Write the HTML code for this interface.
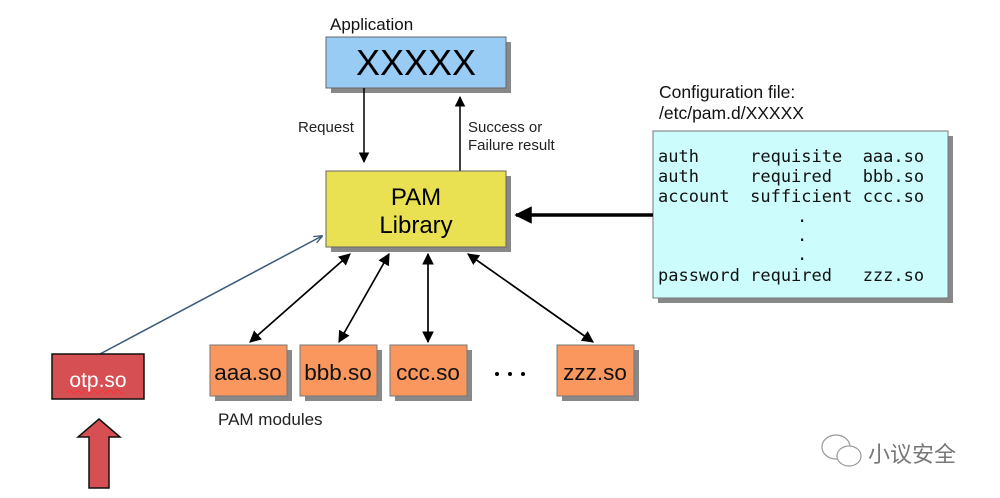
<!DOCTYPE html>
<html><head><meta charset="utf-8"><style>
html,body{margin:0;padding:0;background:#fff;width:1000px;height:498px;overflow:hidden}
svg text{font-family:"Liberation Sans","Noto Sans CJK SC",sans-serif}
.mono{font-family:"DejaVu Sans Mono","Liberation Mono",monospace}
</style></head><body>
<svg width="1000" height="498" viewBox="0 0 1000 498" xmlns="http://www.w3.org/2000/svg">
<defs>
<marker id="a" viewBox="0 0 10 10" refX="9" refY="5" markerWidth="7" markerHeight="7" orient="auto-start-reverse"><path d="M0,0 L10,5 L0,10 z" fill="#000"/></marker>
<marker id="b" viewBox="0 0 10 10" refX="9" refY="5" markerWidth="5" markerHeight="5" orient="auto"><path d="M0,0 L10,5 L0,10 z" fill="#000"/></marker>
<marker id="c" viewBox="0 0 10 10" refX="9" refY="5" markerWidth="6" markerHeight="6" orient="auto"><path d="M0,1 L10,5 L0,9" fill="none" stroke="#3a5a7a" stroke-width="1.5"/></marker>
</defs>
<text x="330" y="30" font-size="17" fill="#111">Application</text>
<rect x="331" y="42" width="180" height="51" fill="#888"/>
<rect x="326" y="37" width="180" height="51" fill="#99ccf5" stroke="#666" stroke-width="1"/>
<text x="416" y="75" font-size="36" text-anchor="middle" fill="#000">XXXXX</text>
<line x1="364" y1="88" x2="364" y2="162" stroke="#000" stroke-width="1.5" marker-end="url(#a)"/>
<text x="298" y="132" font-size="15" fill="#222">Request</text>
<line x1="460" y1="171" x2="460" y2="97" stroke="#000" stroke-width="1.5" marker-end="url(#a)"/>
<text x="468" y="132" font-size="15" fill="#222">Success or</text>
<text x="468" y="150" font-size="15" fill="#222">Failure result</text>
<rect x="331" y="176" width="180" height="76" fill="#888"/>
<rect x="326" y="171" width="180" height="76" fill="#e9e152" stroke="#666" stroke-width="1"/>
<text x="416" y="205" font-size="24" text-anchor="middle" fill="#000">PAM</text>
<text x="416" y="233" font-size="24" text-anchor="middle" fill="#000">Library</text>
<text x="659" y="98" font-size="17.5" fill="#111">Configuration file:</text>
<text x="659" y="119" font-size="17.5" fill="#111">/etc/pam.d/XXXXX</text>
<rect x="658" y="136" width="295" height="167" fill="#888"/>
<rect x="653" y="131" width="295" height="167" fill="#ccfcfc" stroke="#777" stroke-width="1"/>
<g font-size="17" fill="#111">
<text x="658" y="162" class="mono" xml:space="preserve">auth     requisite  aaa.so</text>
<text x="658" y="182" class="mono" xml:space="preserve">auth     required   bbb.so</text>
<text x="658" y="202" class="mono" xml:space="preserve">account  sufficient ccc.so</text>
<text x="797" y="222" class="mono">.</text>
<text x="797" y="241" class="mono">.</text>
<text x="797" y="260" class="mono">.</text>
<text x="658" y="281" class="mono" xml:space="preserve">password required   zzz.so</text>
</g>
<line x1="653" y1="215" x2="516" y2="215" stroke="#000" stroke-width="3.5" marker-end="url(#b)"/>
<g stroke="#000" stroke-width="1.7">
<line x1="250" y1="342" x2="350" y2="254" marker-start="url(#a)" marker-end="url(#a)"/>
<line x1="339" y1="342" x2="389" y2="254" marker-start="url(#a)" marker-end="url(#a)"/>
<line x1="428" y1="342" x2="428" y2="254" marker-start="url(#a)" marker-end="url(#a)"/>
<line x1="593" y1="342" x2="468" y2="254" marker-start="url(#a)" marker-end="url(#a)"/>
</g>
<g font-size="22.5" text-anchor="middle" fill="#111">
<rect x="215" y="350" width="77" height="51" fill="#888"/><rect x="210" y="345" width="77" height="51" fill="#f9975f" stroke="#777"/><text x="248" y="380">aaa.so</text>
<rect x="305" y="350" width="77" height="51" fill="#888"/><rect x="300" y="345" width="77" height="51" fill="#f9975f" stroke="#777"/><text x="338" y="380">bbb.so</text>
<rect x="395" y="350" width="77" height="51" fill="#888"/><rect x="390" y="345" width="77" height="51" fill="#f9975f" stroke="#777"/><text x="428" y="380">ccc.so</text>
<rect x="562" y="350" width="77" height="51" fill="#888"/><rect x="557" y="345" width="77" height="51" fill="#f9975f" stroke="#777"/><text x="595" y="380">zzz.so</text>
</g>
<circle cx="497" cy="374" r="2" fill="#000"/><circle cx="510" cy="374" r="2" fill="#000"/><circle cx="523" cy="374" r="2" fill="#000"/>
<text x="218" y="425" font-size="17" fill="#222">PAM modules</text>
<line x1="100" y1="354" x2="322" y2="236" stroke="#3a5a7a" stroke-width="1.5" marker-end="url(#c)"/>
<rect x="52" y="354" width="92" height="45" fill="#d54f53" stroke="#111" stroke-width="1.5"/>
<text x="98" y="387" font-size="21" text-anchor="middle" fill="#fff">otp.so</text>
<path d="M68,392 q2,-3 4,0 t4,0 t4,0 t4,0 t4,0 t4,0 t4,0 t4,0 t4,0 t4,0 t4,0 t4,0 t4,0 t4,0" fill="none" stroke="#f33" stroke-width="1"/>
<polygon points="99,419 120,437 109,437 109,488 89,488 89,437 78,437" fill="#d54f53" stroke="#111" stroke-width="1.5"/>
<g fill="none" stroke="#999" stroke-width="1.2">
<ellipse cx="836" cy="447" rx="14" ry="12"/>
<ellipse cx="849" cy="456" rx="12" ry="10" fill="#fff"/>
</g>
<text x="868" y="462" font-size="22" fill="#777">小议安全</text>
</svg>
</body></html>
